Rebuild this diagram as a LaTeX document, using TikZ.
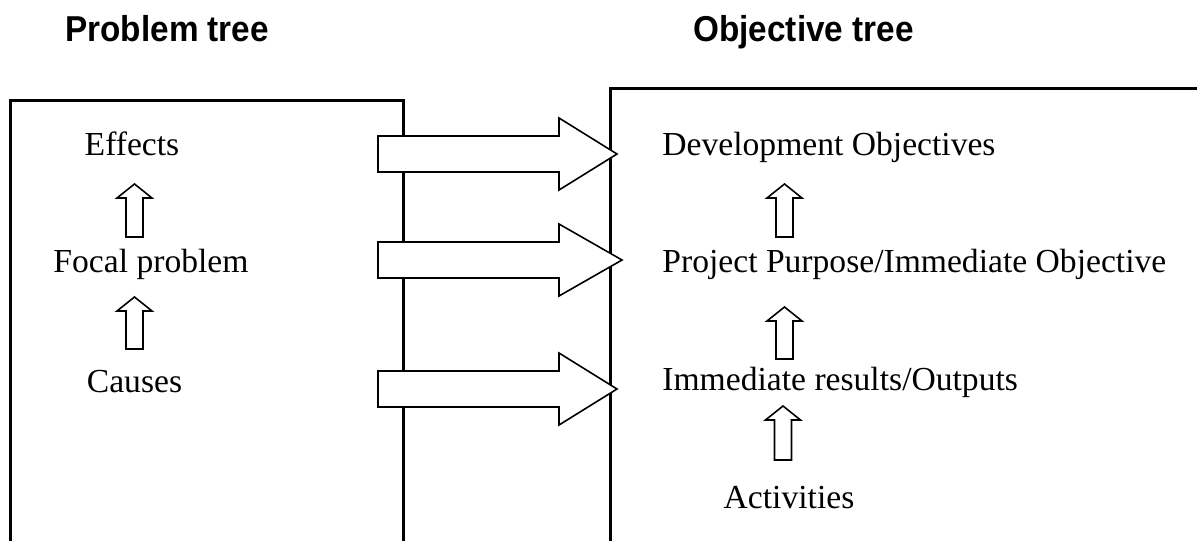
\documentclass[tikz,border=0pt]{standalone}
\usepackage{fontspec}
\setmainfont{Liberation Serif}
\newfontfamily\titlefont[FakeStretch=0.925]{Liberation Sans}
\usepackage{tikz}
\usetikzlibrary{calc}
\usetikzlibrary{positioning}

\tikzset{
  frame/.style={line width=1.5pt},
  blockarr/.style={draw,fill=white,line width=0.8pt,line join=miter},
  treetitle/.style={anchor=base west,inner sep=0pt,font=\titlefont\bfseries\fontsize{18}{20}\selectfont},
  level/.style={inner sep=0pt,font=\fontsize{16.8}{19}\selectfont}
}

\begin{document}
\begin{tikzpicture}[x=0.5pt,y=-0.5pt]
\useasboundingbox (0,0) rectangle (1197,541);

\node[treetitle] (ptitle) at (65,41) {Problem tree};
\node[treetitle] (otitle) at (693,41) {Objective tree};

% the two frames, open at the bottom
\draw[frame] (10,541) -- (10,100) -- (403,100) -- (403,541);
\draw[frame] (610,541) -- (610,88) -- (1197,88);

% problem side
\node[level,anchor=base] (effects) at (132,155) {Effects};
\node[level,anchor=base] (focal) at (151,272) {Focal problem};
\node[level,anchor=base] (causes) at (134.5,392) {Causes};

% objective side
\node[level,anchor=base west] (devobj) at (662,155) {Development Objectives};
\node[level,anchor=base west] (purpose) at (662,272) {Project Purpose/Immediate Objective};
\node[level,anchor=base west] (outputs) at (662,390) {Immediate results/Outputs};
\node[level,anchor=base] (activities) at (789,508) {Activities};

% hollow up arrows
\foreach \x/\t/\b in {134.5/184/237, 134.5/297/349, 784.5/184/237, 784.5/307/359, 783/406/460}{
  \draw[blockarr] (\x,\t) -- ({\x+17.5},{\t+14}) -- ({\x+8.5},{\t+14}) -- ({\x+8.5},\b)
    -- ({\x-8.5},\b) -- ({\x-8.5},{\t+14}) -- ({\x-17.5},{\t+14}) -- cycle;
}

% big arrows from one tree to the other
\foreach \y/\tip in {154/617, 260/622, 389/617}{
  \draw[blockarr] (378,{\y-18}) -- (559,{\y-18}) -- (559,{\y-36}) -- (\tip,\y)
    -- (559,{\y+36}) -- (559,{\y+18}) -- (378,{\y+18}) -- cycle;
}
\end{tikzpicture}
\end{document}
